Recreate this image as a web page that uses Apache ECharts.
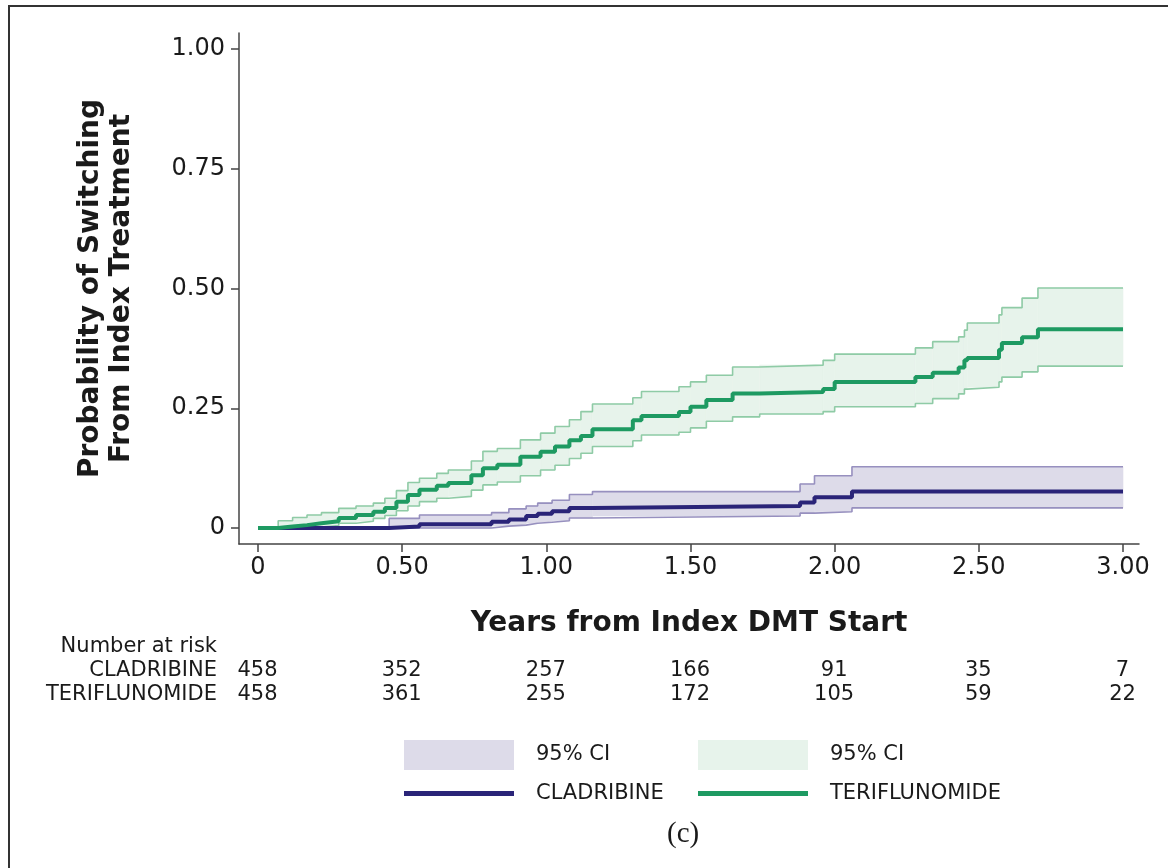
<!DOCTYPE html>
<html>
<head>
<meta charset="utf-8">
<script src="https://cdn.jsdelivr.net/npm/echarts@6/dist/echarts.min.js"></script>
<style>
  html, body { margin: 0; padding: 0; background: #fff; }
  #chart { width: 1168px; height: 868px; }
</style>
</head>
<body>
<div id="chart"></div>
<script>
// tick positions
const xTicks = [0, 0.5, 1, 1.5, 2, 2.5, 3];
const yTicks = [0, 0.25, 0.5, 0.75, 1];

// number at risk table
const riskRows = ['Number at risk', 'CLADRIBINE', 'TERIFLUNOMIDE'];
const riskYears = [0, 0.5, 1, 1.5, 2, 2.5, 3];
const riskClad = [458, 352, 257, 166, 91, 35, 7];
const riskTeri = [458, 361, 255, 172, 105, 59, 22];

// teriflunomide cumulative switching
const teriT = [0, 0.07, 0.12, 0.17, 0.22, 0.28, 0.34, 0.40, 0.44, 0.48, 0.52, 0.56, 0.62, 0.66, 0.74, 0.78, 0.83, 0.91, 0.98, 1.03, 1.08, 1.12, 1.16, 1.30, 1.33, 1.46, 1.50, 1.555, 1.646, 1.74, 1.96, 2.00, 2.28, 2.34, 2.43, 2.45, 2.46, 2.57, 2.58, 2.65, 2.705, 3.00];
const teriEst = [0, 0.003, 0.006, 0.010, 0.014, 0.021, 0.027, 0.034, 0.042, 0.055, 0.069, 0.080, 0.088, 0.094, 0.110, 0.125, 0.132, 0.149, 0.159, 0.170, 0.183, 0.192, 0.206, 0.225, 0.234, 0.242, 0.253, 0.267, 0.281, 0.284, 0.290, 0.305, 0.315, 0.324, 0.335, 0.350, 0.355, 0.372, 0.386, 0.398, 0.415, 0.415];
const teriLo = [0, 0, 0.001, 0.002, 0.005, 0.010, 0.014, 0.020, 0.026, 0.036, 0.046, 0.055, 0.062, 0.066, 0.079, 0.090, 0.096, 0.109, 0.121, 0.131, 0.145, 0.156, 0.170, 0.182, 0.194, 0.200, 0.209, 0.223, 0.232, 0.238, 0.243, 0.253, 0.260, 0.270, 0.280, 0.290, 0.294, 0.305, 0.315, 0.326, 0.338, 0.338];
const teriHi = [0, 0.015, 0.022, 0.027, 0.032, 0.041, 0.046, 0.052, 0.062, 0.078, 0.095, 0.104, 0.114, 0.121, 0.140, 0.160, 0.166, 0.184, 0.198, 0.212, 0.226, 0.243, 0.259, 0.272, 0.285, 0.295, 0.305, 0.319, 0.336, 0.340, 0.350, 0.363, 0.376, 0.389, 0.399, 0.413, 0.428, 0.445, 0.460, 0.480, 0.501, 0.501];

// cladribine
const cladT = [0, 0.455, 0.56, 0.81, 0.87, 0.93, 0.97, 1.02, 1.08, 1.16, 1.88, 1.93, 2.06, 3.00];
const cladEst = [0, 0.003, 0.008, 0.013, 0.018, 0.025, 0.030, 0.035, 0.042, 0.046, 0.053, 0.064, 0.076, 0.076];
const cladLo = [0, 0, 0, 0.004, 0.006, 0.010, 0.012, 0.015, 0.021, 0.025, 0.031, 0.034, 0.042, 0.042];
const cladHi = [0, 0.020, 0.027, 0.032, 0.040, 0.046, 0.052, 0.058, 0.070, 0.076, 0.092, 0.109, 0.128, 0.128];

const FONT = 'DejaVu Sans';
const TXT = '#1a1a1a';
const GREEN = '#1e9a62', GREEN_CI = '#8fcba6', GREEN_FILL = '#e7f3eb';
const NAVY = '#2a2478', NAVY_CI = '#9790bf', NAVY_FILL = '#dddbe9';

const zip = (t, v) => t.map((x, i) => [x, v[i]]);

// one rect per step: [t_i, t_i+1, lo_i, hi_i]
const steps = (t, lo, hi) => t.slice(0, -1).map((x, i) => [x, t[i + 1], lo[i], hi[i]]);

function band(name, t, lo, hi, fill) {
  return {
    name: name, type: 'custom', silent: true, z: 1, color: fill,
    data: steps(t, lo, hi),
    encode: { x: [0, 1], y: [2, 3] },
    renderItem: (params, api) => {
      const p0 = api.coord([api.value(0), api.value(3)]);
      const p1 = api.coord([api.value(1), api.value(2)]);
      return {
        type: 'rect',
        shape: { x: p0[0], y: p0[1], width: p1[0] - p0[0], height: p1[1] - p0[1] },
        style: { fill: fill, stroke: fill, lineWidth: 0.6 }
      };
    }
  };
}

function stepLine(name, t, v, color, width, z) {
  return {
    name: name, type: 'line', step: 'end', data: zip(t, v),
    showSymbol: false, symbol: 'none', color: color,
    lineStyle: { color: color, width: width }, silent: true, z: z
  };
}

const riskData = [];
riskYears.forEach((yr, i) => {
  riskData.push([yr, 'CLADRIBINE', riskClad[i]]);
  riskData.push([yr, 'TERIFLUNOMIDE', riskTeri[i]]);
});

const legendText = { fontFamily: FONT, fontSize: 21, color: TXT, padding: [0, 0, 0, 17] };
const ciName = (n) => (n.indexOf('CI_') === 0 ? '95% CI' : n);

const option = {
  animation: false,
  title: {
    text: '(c)', left: 662, top: 815,
    textStyle: { fontFamily: 'Liberation Serif', fontWeight: 'normal', fontSize: 29, color: TXT }
  },
  graphic: [{
    type: 'rect', shape: { x: 9, y: 6, width: 1300, height: 1000 },
    style: { fill: 'none', stroke: '#333', lineWidth: 2 }, silent: true
  }],
  grid: [
    { left: 239, right: 29, top: 33, bottom: 324 },
    { left: 239, right: 29, top: 635, height: 72 }
  ],
  xAxis: [
    {
      type: 'value', gridIndex: 0, min: -0.0659, max: 3.0555,
      name: 'Years from Index DMT Start', nameLocation: 'middle', nameGap: 66,
      nameTextStyle: { fontFamily: FONT, fontSize: 28, fontWeight: 'bold', color: TXT },
      axisLine: { show: true, onZero: false, lineStyle: { color: '#444', width: 1.5 } },
      axisTick: { show: true, length: 8, customValues: xTicks, lineStyle: { color: '#444', width: 1.5 } },
      axisLabel: {
        customValues: xTicks, margin: 12, fontFamily: FONT, fontSize: 24, color: TXT,
        formatter: (v) => (v === 0 ? '0' : v.toFixed(2))
      },
      splitLine: { show: false }
    },
    {
      type: 'value', gridIndex: 1, min: -0.0659, max: 3.0555, show: false
    }
  ],
  yAxis: [
    {
      type: 'value', gridIndex: 0, min: -0.0334, max: 1.0334,
      name: 'Probability of Switching\nFrom Index Treatment', nameLocation: 'middle',
      nameRotate: 90, nameGap: 102,
      nameTextStyle: { fontFamily: FONT, fontSize: 28, fontWeight: 'bold', color: TXT, lineHeight: 31 },
      axisLine: { show: true, onZero: false, lineStyle: { color: '#444', width: 1.5 } },
      axisTick: { show: true, length: 8, customValues: yTicks, lineStyle: { color: '#444', width: 1.5 } },
      axisLabel: {
        customValues: yTicks, margin: 14, fontFamily: FONT, fontSize: 24, color: TXT,
        formatter: (v) => (v === 0 ? '0' : v.toFixed(2))
      },
      splitLine: { show: false }
    },
    {
      type: 'category', gridIndex: 1, data: riskRows, inverse: true,
      axisLine: { show: false }, axisTick: { show: false }, splitLine: { show: false },
      axisLabel: { interval: 0, margin: 22, fontFamily: FONT, fontSize: 21, color: TXT }
    }
  ],
  legend: [
    {
      left: 404, top: 740, padding: 0, itemWidth: 110, itemHeight: 30, selectedMode: false,
      data: [{ name: 'CI_C', icon: 'rect', itemStyle: { color: NAVY_FILL } }],
      formatter: ciName, textStyle: legendText
    },
    {
      left: 698, top: 740, padding: 0, itemWidth: 110, itemHeight: 30, selectedMode: false,
      data: [{ name: 'CI_T', icon: 'rect', itemStyle: { color: GREEN_FILL } }],
      formatter: ciName, textStyle: legendText
    },
    {
      left: 404, top: 783, padding: 0, itemWidth: 110, itemHeight: 5, selectedMode: false,
      data: [{ name: 'CLADRIBINE', icon: 'rect', itemStyle: { color: NAVY } }],
      textStyle: legendText
    },
    {
      left: 698, top: 783, padding: 0, itemWidth: 110, itemHeight: 5, selectedMode: false,
      data: [{ name: 'TERIFLUNOMIDE', icon: 'rect', itemStyle: { color: GREEN } }],
      textStyle: legendText
    }
  ],
  series: [
    band('CI_T', teriT, teriLo, teriHi, GREEN_FILL),
    band('CI_C', cladT, cladLo, cladHi, NAVY_FILL),
    stepLine('teri_lo', teriT, teriLo, GREEN_CI, 1.6, 3),
    stepLine('teri_hi', teriT, teriHi, GREEN_CI, 1.6, 3),
    stepLine('clad_lo', cladT, cladLo, NAVY_CI, 1.6, 3),
    stepLine('clad_hi', cladT, cladHi, NAVY_CI, 1.6, 3),
    stepLine('CLADRIBINE', cladT, cladEst, NAVY, 4, 4),
    stepLine('TERIFLUNOMIDE', teriT, teriEst, GREEN, 4, 5),
    {
      name: 'risk', type: 'scatter', xAxisIndex: 1, yAxisIndex: 1,
      data: riskData, symbolSize: 1, itemStyle: { color: 'rgba(255,255,255,0)' }, silent: true,
      label: {
        show: true, position: [0, 0], align: 'center', verticalAlign: 'middle',
        fontFamily: FONT, fontSize: 21, color: TXT, opacity: 1,
        formatter: (p) => String(p.value[2])
      }
    }
  ]
};

const chart = echarts.init(document.getElementById('chart'), null, { renderer: 'canvas' });
chart.setOption(option);
</script>
</body>
</html>
